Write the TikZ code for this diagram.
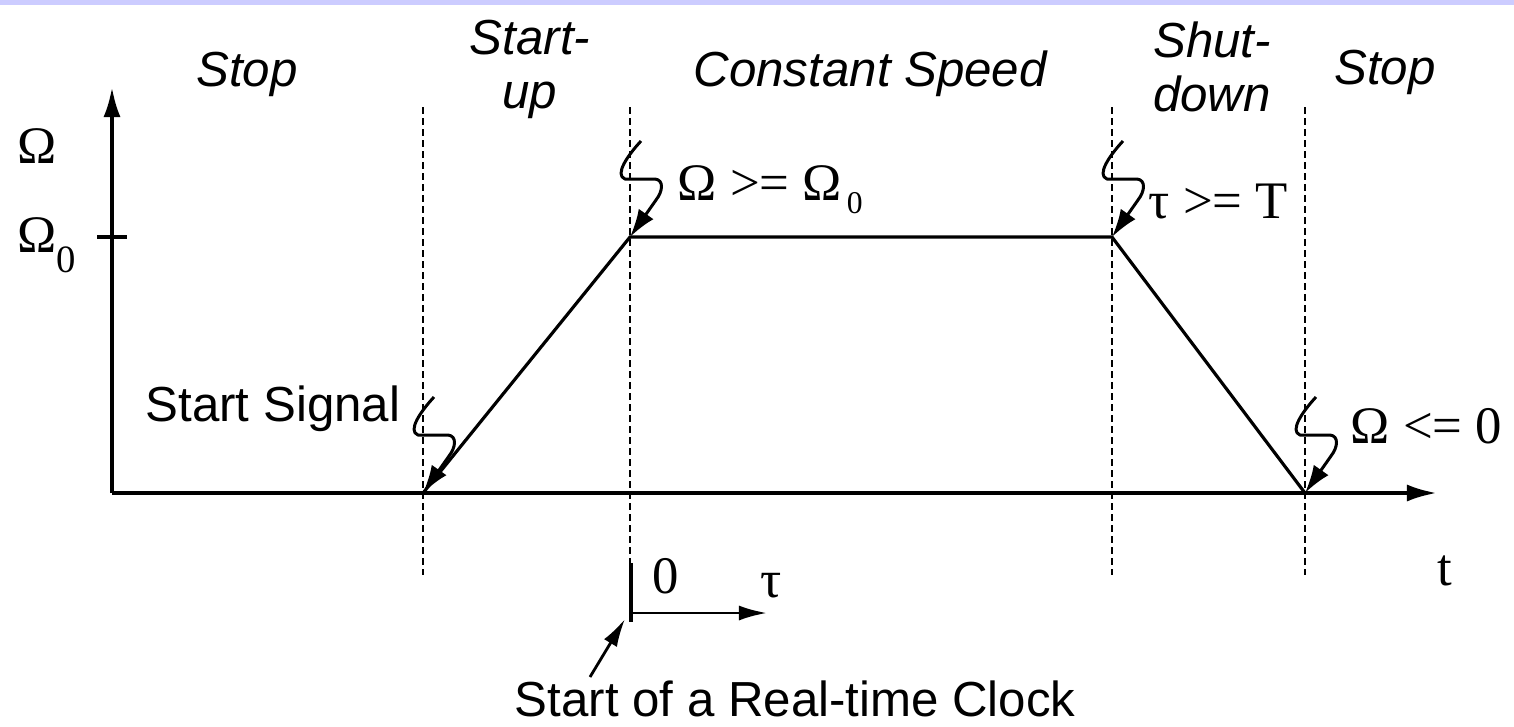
\documentclass[tikz,border=0pt]{standalone}
\usepackage{fontspec}
\setmainfont{Liberation Serif}
\newfontfamily\lsans{Liberation Sans}
\usetikzlibrary{arrows.meta}
\definecolor{barcol}{RGB}{204,204,255}
\tikzset{
  axis/.style={line width=1.1pt,-{Latex[length=3mm,width=1.7mm]}},
  curveline/.style={line width=0.9pt},
  dashline/.style={line width=0.6pt,dash pattern=on 0.7mm off 0.4mm},
  bolt/.style={line width=0.85pt,line join=round,-{Latex[length=2.8mm,width=1.8mm]}},
  phase/.style={font=\lsans\itshape\fontsize{14}{16}\selectfont,inner sep=0pt,align=center},
  sanslab/.style={font=\lsans\fontsize{14}{16}\selectfont,inner sep=0pt,anchor=base west},
  mathlab/.style={font=\fontsize{15}{18}\selectfont,inner sep=0pt,anchor=base west},
  plainarrow/.style={line width=0.8pt,-{Latex[length=2.8mm,width=1.5mm]}}
}
\begin{document}
\begin{tikzpicture}[x=0.01cm,y=-0.01cm]
\useasboundingbox (0,0) rectangle (1514,726);
\fill[barcol] (0,0) rectangle (1514,5);

% coordinates
\coordinate (O) at (112,493);
\coordinate (ytip) at (112,87);
\coordinate (xtip) at (1437,493);
\coordinate (s1) at (423,493);
\coordinate (s2) at (630,237);
\coordinate (s3) at (1112,237);
\coordinate (s4) at (1305,493);
\coordinate (tk1) at (97,237);
\coordinate (tk2) at (127,237);

% dashed verticals
\draw[dashline] (423,107) -- (423,575);
\draw[dashline] (630,107) -- (630,565);
\draw[dashline] (1112,107) -- (1112,575);
\draw[dashline] (1305,107) -- (1305,575);

% axes
\draw[axis] (O) -- (ytip);
\draw[axis] (O) -- (xtip);
\draw[line width=1.1pt] (tk1) -- (tk2);

% speed profile
\draw[curveline,line join=miter] (s1) -- (s2) -- (s3) -- (s4);

% lightning events
\foreach \c in {s1,s2,s3,s4}{
  \draw[bolt] ([shift={(11,-96)}]\c) .. controls ([shift={(-2,-82)}]\c) and ([shift={(-16,-62)}]\c) .. ([shift={(-5,-58)}]\c)
    -- ([shift={(25,-58)}]\c) .. controls ([shift={(34,-57)}]\c) and ([shift={(33,-46)}]\c) .. ([shift={(26,-37)}]\c) -- (\c);
}

% tau axis
\coordinate (tau0) at (631,613);
\coordinate (tautop) at (631,563);
\coordinate (taubot) at (631,622);
\coordinate (tautip) at (767,613);
\draw[line width=0.9pt] (tautop) -- (taubot);
\draw[plainarrow] (tau0) -- (tautip);

% clock label arrow
\node[sanslab] (clk) at (514,716) {Start of a Real-time Clock};
\coordinate (clkfrom) at (590,677);
\coordinate (clkto) at (625,619);
\draw[plainarrow] (clkfrom) -- (clkto);

% phase labels
\node[phase,anchor=base] (stopA) at (247,86) {Stop};
\node[phase,anchor=base] (startup) at (530,108) {Start-\\[-0.03cm]up};
\node[phase,anchor=base west] (const) at (693,86) {Constant Speed};
\node[phase,anchor=base] (shut) at (1212,111) {Shut-\\[-0.03cm]down};
\node[phase,anchor=base] (stopB) at (1385,84) {Stop};

% other labels
\node[sanslab] (sig) at (145,421) {Start Signal};
\node[mathlab] (om) at (17,163) {Ω};
\node[mathlab] (om0) at (17,252) {Ω\raisebox{-0.2cm}{\fontsize{11}{13}\selectfont 0}};
\node[mathlab] (c1) at (677,200) {Ω >= Ω\kern0.05cm\raisebox{-0.13cm}{\fontsize{9}{11}\selectfont 0}};
\node[mathlab] (c2) at (1148,218) {τ >= T};
\node[mathlab] (c3) at (1350,443) {Ω <= 0};
\node[mathlab] (tl) at (1437,585) {t};
\node[mathlab] (zero) at (652,593) {0};
\node[mathlab] (taul) at (760,597) {τ};
\end{tikzpicture}
\end{document}
